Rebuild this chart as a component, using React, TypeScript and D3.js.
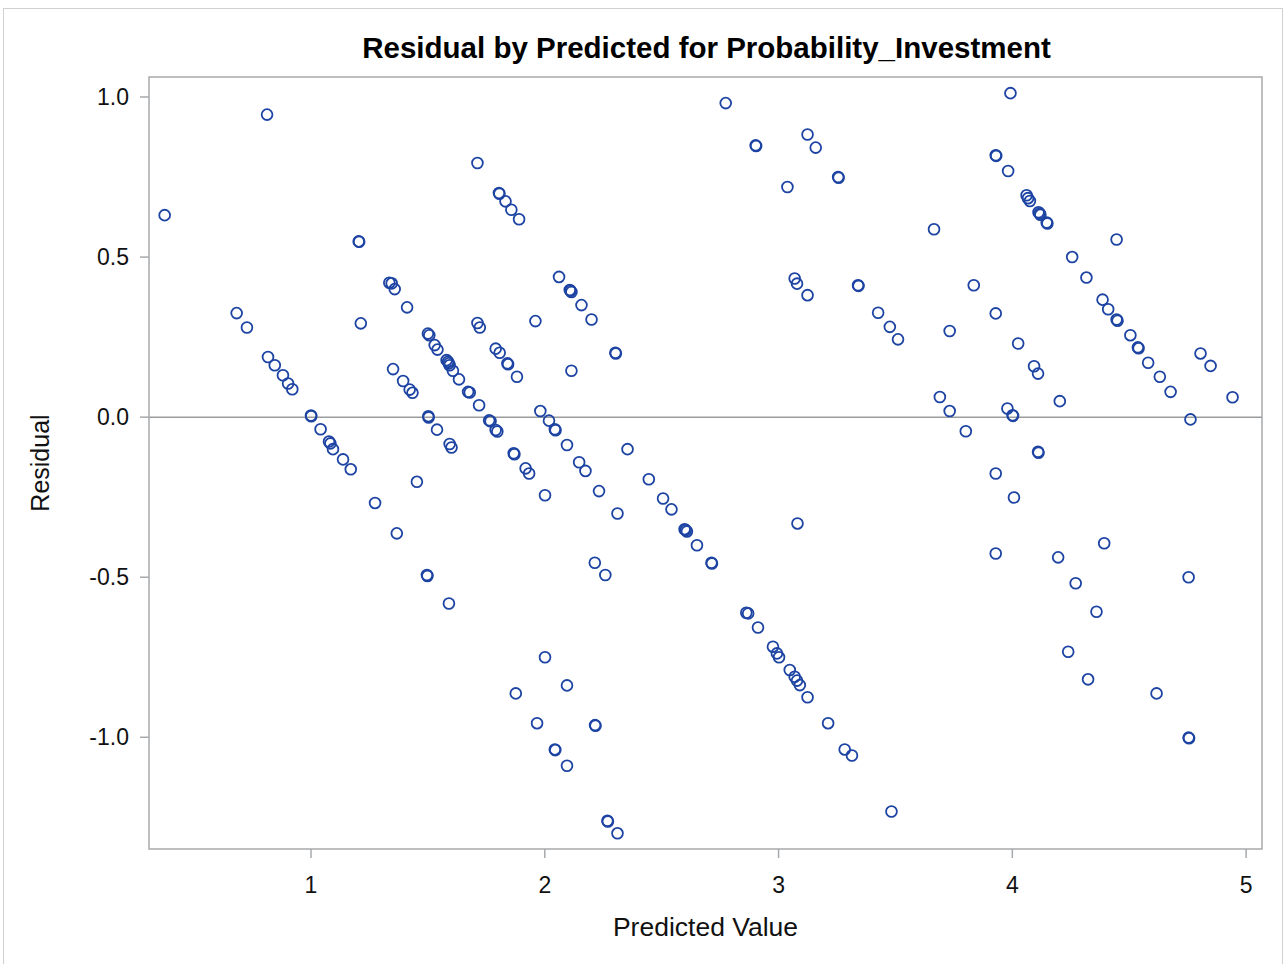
import React from "react";
import * as d3 from "d3";

// Predicted values and residuals from the fitted model
const predicted: number[] = [
  0.374, 0.812, 0.682, 0.726, 0.816, 0.845, 0.88, 0.902, 0.92, 1.0, 1.001, 1.041, 1.077, 1.083, 1.094, 1.137, 1.17,
  1.274, 1.367, 1.204, 1.206, 1.213, 1.335, 1.345, 1.358, 1.411, 1.351, 1.394, 1.422, 1.434, 1.453, 1.502, 1.503,
  1.539, 1.593, 1.601, 1.496, 1.498, 1.59, 1.5, 1.506, 1.529, 1.541, 1.58, 1.586, 1.59, 1.593, 1.607, 1.633, 1.672,
  1.679, 1.719, 1.712, 1.804, 1.806, 1.832, 1.857, 1.89, 2.061, 2.107, 2.11, 2.114, 2.157, 2.2, 1.96, 1.712, 1.722,
  1.79, 1.807, 1.84, 1.843, 1.881, 2.114, 2.302, 2.304, 1.762, 1.768, 1.79, 1.797, 1.867, 1.87, 1.918, 1.933, 2.001,
  1.981, 2.018, 2.043, 2.046, 2.095, 2.147, 2.174, 2.232, 2.311, 2.354, 2.445, 2.506, 2.542, 2.598, 2.603, 2.608,
  2.651, 2.713, 2.715, 2.214, 2.259, 2.001, 1.876, 2.095, 1.967, 2.215, 2.217, 2.043, 2.045, 2.095, 2.268, 2.27,
  2.311, 2.862, 2.87, 2.912, 2.774, 2.902, 2.904, 3.124, 3.159, 3.038, 3.255, 3.257, 3.665, 3.069, 3.079, 3.124,
  3.34, 3.342, 3.426, 3.476, 3.511, 3.732, 3.835, 3.69, 3.732, 3.801, 3.081, 2.976, 2.993, 3.002, 3.048, 3.069,
  3.079, 3.091, 3.124, 3.212, 3.283, 3.314, 3.483, 3.992, 3.929, 3.931, 3.982, 4.061, 4.067, 4.075, 4.112, 4.117,
  4.12, 4.147, 4.15, 4.446, 4.256, 4.317, 4.386, 4.41, 4.446, 4.45, 4.505, 4.537, 4.54, 4.581, 4.805, 4.848, 3.929,
  4.025, 4.093, 4.11, 4.631, 4.677, 4.942, 3.979, 4.001, 4.003, 4.203, 4.762, 4.11, 4.112, 3.929, 4.007, 3.929,
  4.196, 4.393, 4.271, 4.754, 4.36, 4.239, 4.324, 4.617, 4.754, 4.756,
];

const residual: number[] = [
  0.631, 0.945, 0.325, 0.28, 0.188, 0.162, 0.131, 0.105, 0.087, 0.005, 0.003, -0.038, -0.076, -0.082, -0.1, -0.132,
  -0.163, -0.268, -0.363, 0.549, 0.548, 0.293, 0.42, 0.418, 0.4, 0.343, 0.15, 0.113, 0.086, 0.076, -0.202, 0.003,
  -0.001, -0.039, -0.084, -0.095, -0.493, -0.496, -0.582, 0.261, 0.256, 0.225, 0.211, 0.178, 0.173, 0.168, 0.162,
  0.145, 0.118, 0.079, 0.077, 0.037, 0.794, 0.7, 0.698, 0.674, 0.648, 0.618, 0.438, 0.397, 0.395, 0.391, 0.35,
  0.305, 0.3, 0.294, 0.28, 0.214, 0.201, 0.168, 0.165, 0.126, 0.145, 0.201, 0.199, -0.01, -0.013, -0.04, -0.045,
  -0.113, -0.116, -0.16, -0.176, -0.244, 0.019, -0.011, -0.038, -0.041, -0.087, -0.141, -0.168, -0.231, -0.301,
  -0.1, -0.194, -0.254, -0.288, -0.35, -0.353, -0.357, -0.4, -0.455, -0.457, -0.455, -0.493, -0.75, -0.863, -0.838,
  -0.956, -0.962, -0.964, -1.038, -1.04, -1.089, -1.261, -1.263, -1.3, -0.611, -0.613, -0.657, 0.981, 0.849, 0.847,
  0.883, 0.842, 0.719, 0.75, 0.748, 0.587, 0.433, 0.417, 0.381, 0.412, 0.41, 0.326, 0.282, 0.243, 0.269, 0.412,
  0.063, 0.019, -0.044, -0.332, -0.717, -0.738, -0.75, -0.79, -0.811, -0.823, -0.837, -0.875, -0.956, -1.038,
  -1.057, -1.232, 1.012, 0.818, 0.816, 0.769, 0.693, 0.684, 0.675, 0.64, 0.636, 0.632, 0.608, 0.605, 0.555, 0.5,
  0.436, 0.367, 0.337, 0.305, 0.301, 0.256, 0.218, 0.215, 0.17, 0.199, 0.16, 0.324, 0.23, 0.159, 0.136, 0.126,
  0.079, 0.062, 0.027, 0.006, 0.004, 0.05, -0.007, -0.108, -0.111, -0.176, -0.251, -0.426, -0.438, -0.394, -0.519,
  -0.5, -0.608, -0.733, -0.819, -0.863, -1.001, -1.003,
];

const xTicks: number[] = [1, 2, 3, 4, 5];
const yTicks: number[] = [1.0, 0.5, 0.0, -0.5, -1.0];

const titleText = "Residual by Predicted for Probability_Investment";
const xLabel = "Predicted Value";
const yLabel = "Residual";

const W = 1285;
const H = 964;
const plot = { left: 149, top: 77, right: 1262, bottom: 849 };
const FONT = "'Liberation Sans', Arial, sans-serif";
const MARKER = "#1d44a3";
const AXIS = "#a7a9ab";

// SAS-style tick labels use a plain hyphen for negatives
const fmtTick = (v: number) => d3.format(".1f")(v).replace("\u2212", "-");

export default function App() {
  const x = d3.scaleLinear().domain([0.307, 5.068]).range([plot.left, plot.right]);
  const y = d3.scaleLinear().domain([-1.349, 1.0625]).range([plot.bottom, plot.top]);
  const points = predicted.map((p, i) => ({ p, r: residual[i] }));

  return (
    <svg
      width={W}
      height={H}
      style={{ position: "absolute", left: 0, top: 0, background: "#fff" }}
      fontFamily={FONT}
    >
      <rect x={0} y={0} width={W} height={H} fill="#fff" />
      {/* outer graph border */}
      <rect x={3.5} y={8.5} width={1279} height={970} fill="none" stroke="#d0d0d0" strokeWidth={1} />

      {/* title */}
      <text
        x={(plot.left + plot.right) / 2 + 1}
        y={58}
        textAnchor="middle"
        fontSize={29.5}
        fontWeight="bold"
        fill="#000"
      >
        {titleText}
      </text>

      {/* zero reference line */}
      <line x1={plot.left} x2={plot.right} y1={y(0)} y2={y(0)} stroke="#9a9c9e" strokeWidth={1.5} />

      {/* markers */}
      <g fill="none" stroke={MARKER} strokeWidth={1.8}>
        {points.map((d, i) => (
          <circle key={i} cx={x(d.p)} cy={y(d.r)} r={5.4} />
        ))}
      </g>

      {/* plot frame */}
      <rect
        x={plot.left}
        y={plot.top}
        width={plot.right - plot.left}
        height={plot.bottom - plot.top}
        fill="none"
        stroke={AXIS}
        strokeWidth={1.5}
      />

      {/* x axis */}
      <g>
        {xTicks.map((t) => (
          <g key={t}>
            <line x1={x(t)} x2={x(t)} y1={plot.bottom} y2={plot.bottom + 9} stroke={AXIS} strokeWidth={1.5} />
            <text x={x(t)} y={893} textAnchor="middle" fontSize={23} fill="#111">
              {t}
            </text>
          </g>
        ))}
        <text x={(plot.left + plot.right) / 2} y={936} textAnchor="middle" fontSize={26.5} fill="#111">
          {xLabel}
        </text>
      </g>

      {/* y axis */}
      <g>
        {yTicks.map((t) => (
          <g key={t}>
            <line x1={plot.left - 9} x2={plot.left} y1={y(t)} y2={y(t)} stroke={AXIS} strokeWidth={1.5} />
            <text x={plot.left - 20} y={y(t) + 8} textAnchor="end" fontSize={23} fill="#111">
              {fmtTick(t)}
            </text>
          </g>
        ))}
        <text
          transform={`translate(49, ${(plot.top + plot.bottom) / 2}) rotate(-90)`}
          textAnchor="middle"
          fontSize={25}
          fill="#111"
        >
          {yLabel}
        </text>
      </g>
    </svg>
  );
}
